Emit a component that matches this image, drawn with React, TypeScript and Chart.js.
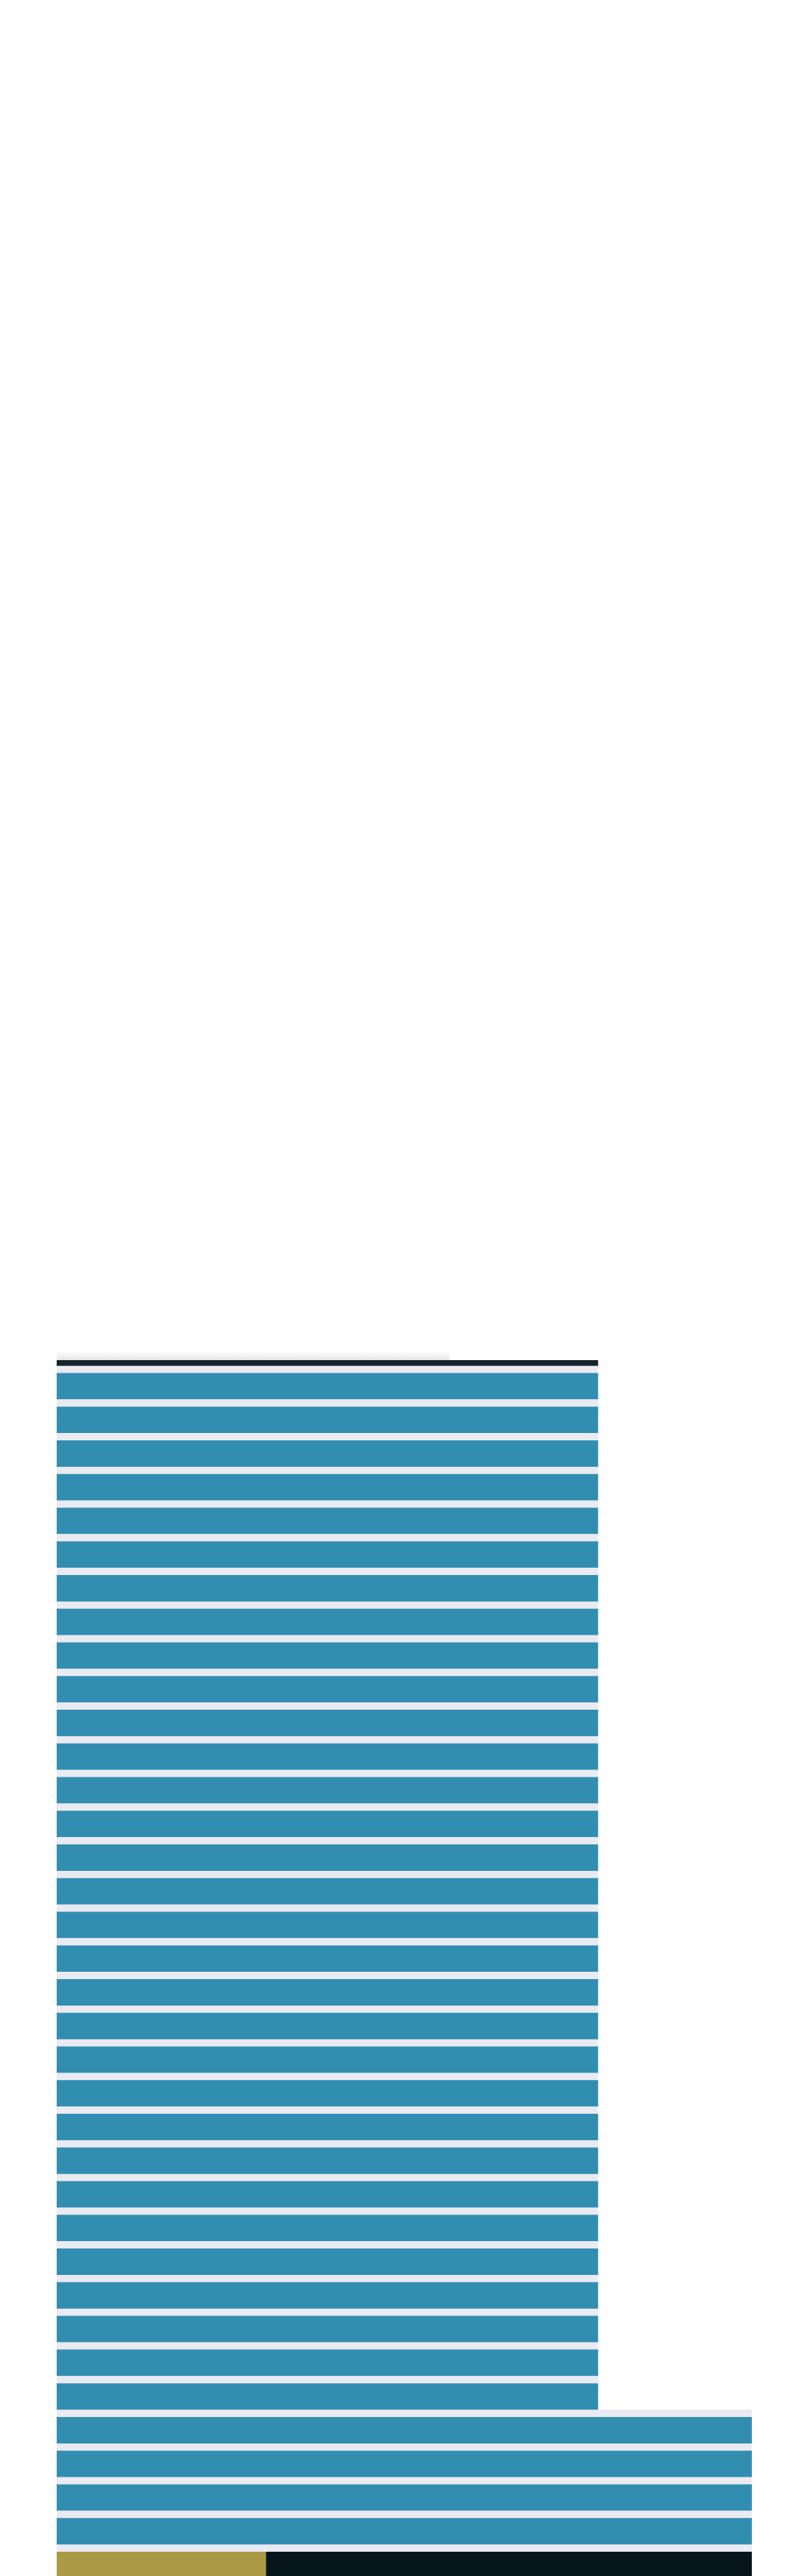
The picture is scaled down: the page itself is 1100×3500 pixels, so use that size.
import React, { useEffect, useRef } from "react";
import { Chart, registerables } from "chart.js";

Chart.register(...registerables);

// 37 rows: a partly hidden dark top row, 35 blue rows, one olive/black row
const categories: string[] = [
  "R0", "R1", "R2", "R3", "R4", "R5", "R6", "R7", "R8", "R9",
  "R10", "R11", "R12", "R13", "R14", "R15", "R16", "R17", "R18", "R19",
  "R20", "R21", "R22", "R23", "R24", "R25", "R26", "R27", "R28", "R29",
  "R30", "R31", "R32", "R33", "R34", "R35", "R36",
];

const darkValues: (number | null)[] = [
  77.9, null, null, null, null, null, null, null, null, null,
  null, null, null, null, null, null, null, null, null, null,
  null, null, null, null, null, null, null, null, null, null,
  null, null, null, null, null, null, null,
];

const blueValues: (number | null)[] = [
  null, 77.9, 77.9, 77.9, 77.9, 77.9, 77.9, 77.9, 77.9, 77.9,
  77.9, 77.9, 77.9, 77.9, 77.9, 77.9, 77.9, 77.9, 77.9, 77.9,
  77.9, 77.9, 77.9, 77.9, 77.9, 77.9, 77.9, 77.9, 77.9, 77.9,
  77.9, 77.9, 100, 100, 100, 100, null,
];

const oliveValues: (number | null)[] = [
  null, null, null, null, null, null, null, null, null, null,
  null, null, null, null, null, null, null, null, null, null,
  null, null, null, null, null, null, null, null, null, null,
  null, null, null, null, null, null, 30.1,
];

const blackValues: (number | null)[] = [
  null, null, null, null, null, null, null, null, null, null,
  null, null, null, null, null, null, null, null, null, null,
  null, null, null, null, null, null, null, null, null, null,
  null, null, null, null, null, null, 69.9,
];

const LAVENDER = "#eaeaf3";

export default function App() {
  const ref = useRef<HTMLCanvasElement | null>(null);

  useEffect(() => {
    if (!ref.current) return;
    const common = {
      borderWidth: { top: 10, right: 0, bottom: 0, left: 0 },
      borderColor: LAVENDER,
      borderSkipped: false as const,
      categoryPercentage: 1,
      barPercentage: 1,
      clip: { left: 0, right: 0, bottom: 0, top: -38 },
    };
    const chart = new Chart(ref.current, {
      type: "bar",
      data: {
        labels: categories,
        datasets: [
          { label: "top", data: darkValues, backgroundColor: "#15242a", ...common },
          { label: "blue", data: blueValues, backgroundColor: "#318eb1", ...common },
          { label: "olive", data: oliveValues, backgroundColor: "#aa9a45", ...common },
          { label: "black", data: blackValues, backgroundColor: "#06151b", ...common },
        ],
      },
      options: {
        indexAxis: "y",
        responsive: false,
        animation: false,
        devicePixelRatio: 1,
        layout: { padding: { left: 77, right: 79, top: 0, bottom: 0 } },
        plugins: { legend: { display: false }, tooltip: { enabled: false }, title: { display: false } },
        scales: {
          x: { type: "linear", min: 0, max: 100, stacked: true, display: false, grid: { display: false } },
          y: { type: "category", stacked: true, display: false, grid: { display: false }, offset: true },
        },
      },
    });
    return () => chart.destroy();
  }, []);

  return (
    <div style={{ position: "absolute", left: 0, top: 0, width: 1100, height: 3500, overflow: "hidden", background: "#ffffff" }}>
      <div
        style={{
          position: "absolute",
          left: 77,
          top: 1836,
          width: 533,
          height: 12,
          background: "linear-gradient(to bottom, rgba(235,235,235,0), rgba(225,225,225,0.9))",
        }}
      />
      <canvas
        ref={ref}
        width={1100}
        height={1693}
        style={{ position: "absolute", left: 0, top: 1810, width: 1100, height: 1693, display: "block" }}
      />
    </div>
  );
}
